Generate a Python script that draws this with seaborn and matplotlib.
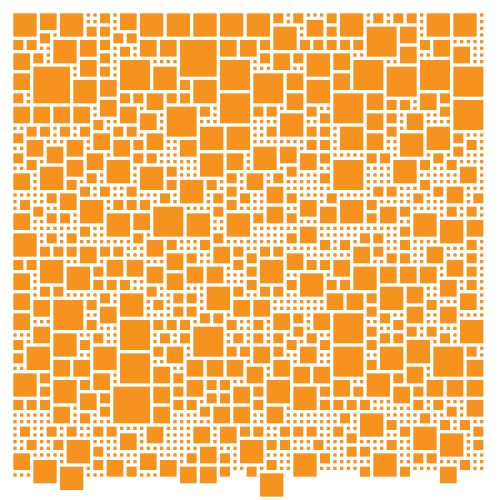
import numpy as np
import pandas as pd
import seaborn as sns
import matplotlib
matplotlib.use("Agg")
import matplotlib.pyplot as plt

# squares per side length, as (column, row) of the top-left grid cell
squares_6 = [(3,8),(25,4),(15,56)]
squares_5 = [(16,7),(23,14),(31,7),(36,9),(31,12),(53,2),(51,7),(61,7),(56,8),(66,8),(48,12),(66,13),(48,22),
             (21,29),(6,43),(16,46),(27,47),(48,45),(16,51),(48,50),(63,50)]
squares_4 = [(0,0),(7,0),(19,0),(23,0),(27,0),(31,0),(35,0),(6,4),(21,8),(9,10),(14,22),(4,23),(19,23),
             (39,2),(44,6),(27,10),(44,10),(40,15),(28,17),(32,17),(36,20),(28,21),
             (49,0),(62,0),(66,0),(49,17),(62,17),(58,18),(57,22),
             (10,28),(14,30),(0,33),(4,37),(8,38),(16,42),
             (25,25),(26,30),(32,30),(37,37),(43,39),(29,41),
             (49,28),(60,30),(64,31),(51,38),(55,41),(67,46),
             (6,48),(2,50),(12,50),(0,54),(6,55),(8,64),(3,67),(7,68),
             (38,55),(42,56),(34,64),(42,66),(37,69),
             (59,49),(55,50),(53,54),(52,60),(60,62),(64,63),(54,66)]
squares_3 = [(4,0),(16,0),(10,4),(19,4),(22,4),(0,6),(10,7),(0,9),(13,10),(20,12),(13,13),(0,14),(3,14),(6,14),
             (9,14),(16,14),(19,15),(12,18),(20,18),(2,19),(8,19),(15,19),(5,20),(11,21),(8,22),
             (44,1),(31,4),(34,4),(39,6),(48,6),(41,9),(41,12),(25,19),(40,20),(32,21),(43,21),
             (58,2),(63,4),(58,5),(66,5),(48,9),(53,12),(61,12),(53,15),(59,15),(53,18),(67,23),
             (0,24),(7,27),(0,30),(18,30),(20,34),(10,35),(14,37),(17,37),(20,38),(0,39),(0,42),(3,43),(13,44),(0,45),(3,47),
             (35,24),(38,26),(43,28),(38,29),(46,29),(43,32),(30,35),(23,36),(41,36),(26,38),(29,38),(23,39),(33,43),(36,43),(39,45),(45,45),(47,42),
             (65,26),(55,29),(68,31),(51,35),(62,35),(48,37),(65,37),(55,38),(58,38),(61,38),(64,40),(59,41),(50,42),(67,42),(59,44),(64,44),
             (23,50),(6,52),(9,52),(21,53),(12,54),(21,56),(10,57),(6,59),(21,59),(20,62),(16,63),(0,66),(19,66),(14,67),(22,67),
             (36,50),(43,50),(26,52),(29,52),(32,52),(39,52),(35,53),(42,53),(45,53),(26,55),(33,56),(30,59),(33,59),(38,59),(27,62),(31,62),(28,65),(25,68),(28,68),
             (68,52),(59,53),(48,55),(62,55),(65,55),(68,55),(57,56),(68,58),(64,68)]
squares_2 = [(13,0),(11,2),(13,2),(4,3),(15,3),(17,3),(0,4),(2,4),(13,4),(16,5),(3,6),(13,6),(13,8),(0,12),(16,12),(18,12),
             (23,12),(12,16),(2,17),(4,17),(7,17),(10,17),(15,17),(17,17),(0,18),(18,19),(0,21),(18,21),(20,21),(2,22),
             (39,0),(42,0),(47,0),(47,2),(37,4),(43,4),(45,4),(47,4),(37,6),(42,6),(25,10),(25,12),(28,14),(36,14),(38,14),
             (44,14),(46,15),(38,17),(44,17),(46,17),(44,19),(46,19),(46,21),
             (54,0),(57,0),(59,0),(49,4),(51,4),(61,4),(64,12),(56,13),(58,13),(64,14),(56,15),(56,17),(66,18),(68,19),(66,20),
             (53,21),(55,21),(63,21),(61,22),(65,22),
             (11,24),(8,25),(10,26),(13,26),(17,26),(5,27),(22,27),(1,28),(15,28),(17,28),(19,28),(3,29),(5,30),(7,30),(10,32),
             (5,33),(8,33),(18,33),(23,34),(4,35),(6,35),(8,35),(13,35),(15,35),(0,37),(2,37),(12,38),(12,40),(14,40),(16,40),
             (4,41),(6,41),(20,41),(13,42),(11,43),(21,43),(11,46),(21,46),
             (23,23),(41,23),(32,24),(39,24),(46,24),(23,25),(29,25),(32,26),(30,27),(34,27),(41,27),(47,27),(32,28),(30,29),
             (36,30),(41,30),(30,33),(41,33),(28,34),(46,34),(33,35),(37,35),(39,35),(26,36),(35,36),(33,37),(44,37),(46,37),
             (35,38),(35,40),(41,40),(47,40),(33,41),(37,41),(39,41),(24,42),(26,42),(24,44),(26,44),(28,45),(30,45),(42,45),
             (23,46),(25,46),(32,46),(36,46),(42,47),
             (61,25),(54,26),(56,26),(63,26),(60,27),(69,27),(53,28),(58,29),(65,29),(68,29),(53,30),(58,32),(52,33),(54,33),
             (49,34),(58,34),(68,34),(54,35),(56,36),(58,36),(68,36),(68,38),(49,40),(68,40),(53,42),(62,43),(53,44),(55,45),
             (57,46),(53,47),(59,47),(62,47),(55,48),(57,48),(64,48),
             (12,48),(22,48),(0,49),(10,49),(21,50),(0,51),(4,54),(10,55),(4,56),(13,57),(0,58),(2,58),(4,58),(13,59),(10,60),
             (1,62),(5,62),(8,62),(12,62),(14,62),(2,64),(6,64),(12,65),(12,67),(17,68),
             (25,48),(33,48),(36,48),(39,48),(44,48),(41,49),(46,49),(32,50),(34,50),(39,50),(24,54),(29,55),(31,55),(24,56),
             (36,56),(46,56),(29,57),(31,57),(24,58),(26,58),(36,58),(46,58),(28,59),(34,62),(36,62),(40,62),(42,62),(44,62),
             (38,64),(40,64),(45,64),(26,66),(31,66),(46,66),(38,67),(31,68),(35,68),
             (53,49),(68,50),(53,52),(57,54),(51,56),(60,56),(48,58),(50,58),(52,58),(60,58),(63,58),(65,59),(49,60),(61,60),
             (56,61),(64,61),(67,61),(48,62),(58,62),(69,62),(50,63),(56,64),(69,64),(50,65),(52,65),(60,66),(62,66),(67,67),
             (52,68),(58,68)]
# single cells below the last full row
extra_dots = [(0,69),(1,69),(2,69),(11,69),(12,69),(13,69),(19,69),(20,69),(21,69)]

n_cols = 71
n_rows = 69
ORANGE = "#f6921e"

by_span = {6: squares_6, 5: squares_5, 4: squares_4, 3: squares_3, 2: squares_2}

taken = np.zeros((n_rows + 6, n_cols + 2), dtype=int)
records = []
for span, squares in by_span.items():
    for col, row in squares:
        taken[row:row + span, col:col + span] = 1
        records.append((col + (span - 1) / 2, row + (span - 1) / 2, span))

# every cell no square covers holds a dot
for row in range(n_rows):
    for col in range(n_cols):
        if not taken[row, col]:
            records.append((col, row, 1))
for col, row in extra_dots:
    records.append((col, row, 1))

df = pd.DataFrame(records, columns=["x", "y", "cells"])

sns.set_theme(style="white")
fig = plt.figure(figsize=(5, 5), dpi=100)
ax = fig.add_axes([0, 0, 1, 1])

# marker area in points^2, gap of half a cell between neighbours
sizes = {n: ((20 * n - 10) / 3 * 0.72) ** 2 for n in [1, 2, 3, 4, 5, 6]}
sns.scatterplot(data=df, x="x", y="y", size="cells", sizes=sizes, marker="s",
                color=ORANGE, linewidth=0, edgecolor="none", snap=False, legend=False, ax=ax)
ax.set_xlim(-2.25, 72.75)
ax.set_ylim(72.75, -2.25)
ax.axis("off")
fig.savefig("out.png", dpi=100)
